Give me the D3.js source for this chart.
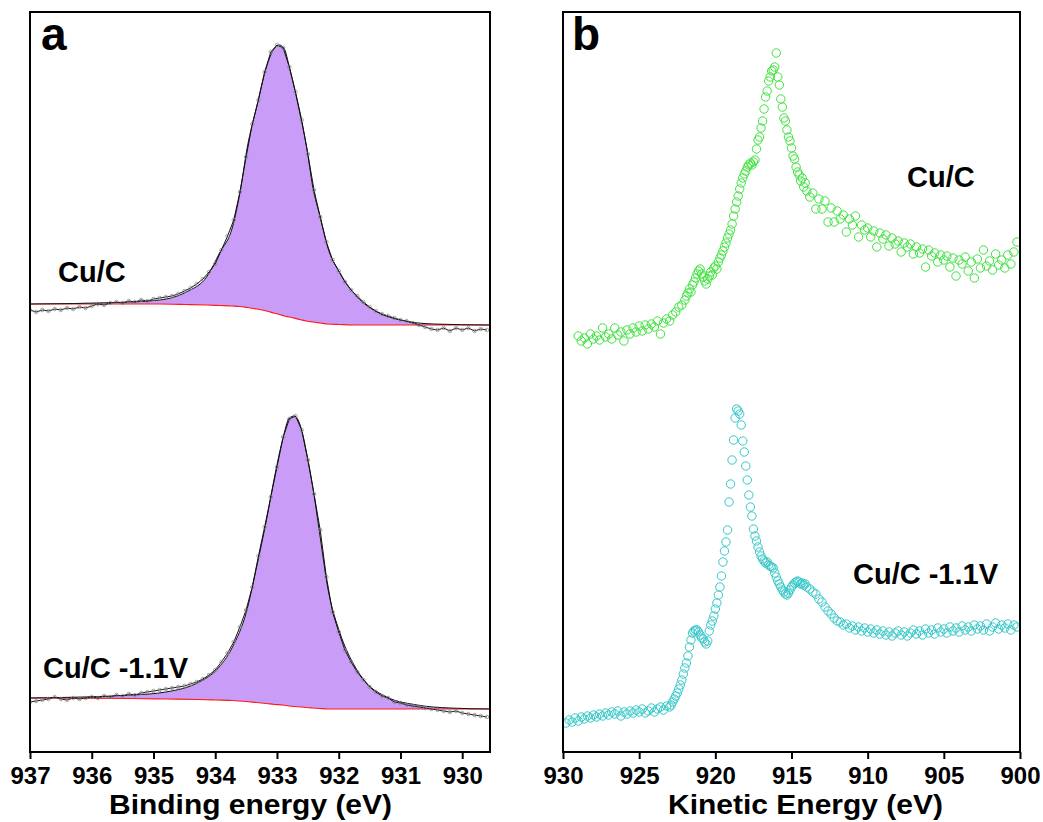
<!DOCTYPE html>
<html>
<head>
<meta charset="utf-8">
<script src="https://cdn.jsdelivr.net/npm/d3@7"></script>
<style>
body { margin: 0; background: #fff; }
text { font-family: "Liberation Sans", Arial, sans-serif; font-weight: bold; fill: #000; }
</style>
</head>
<body>
<div id="chart"></div>
<script>
// ---- panel a : Cu 2p3/2 XPS, binding energy grid 937.0 -> 929.6 eV, 0.1 eV step
var beStart = 937.0, beStep = 0.1;
var beTicks = [937, 936, 935, 934, 933, 932, 931, 930];

var rawCuC = [72,70,72,71,73,72,74,73,75,74, 76,78,77,79,80,79,81,80,82,81,
  83,84,85,86,88,91,94,98,103,110, 118,132,146,162,190,225,258,282,310,330,
  337,334,315,290,262,228,192,165,140,122, 111,100,92,86,80,75,71,68,66,64,
  62,61,59,57,55,53,52,54,51,54, 52,54,51,53,52];
var rawCuCV = [50,51,52,53,55,53,52,54,53,54, 55,54,56,55,57,56,58,57,59,60,
  61,62,63,64,65,66,68,70,73,77, 82,90,99,110,125,142,165,196,225,255,
  285,315,333,336,322,292,258,222,175,140, 120,102,90,80,72,65,60,56,54,50,
  49,47,46,45,44,43,42,41,40,41, 39,38,37,36,35];

// fitted envelope and Shirley background
var fitCuC_E  = [937.0,935.6,934.9,934.47,934.14,933.93,933.72,933.6,933.48,933.33,933.17,933.05,932.96,932.88,932.8,932.63,932.52,932.42,932.3,932.18,931.98,931.7,931.38,931.0,930.47,929.55];
var fitCuC    = [78,79.5,82,90,105,129,155,189,235,275,315,333,337,333,315,269,235,195,165,135,109,85,70,62,58,57];
var bgCuC     = [78,78,78,77.5,77,76.5,76,75.5,74.5,73,71,69,67.5,66,65,62.5,61,60,59,58,57.5,57,57,57,57,57];

var fitCuCV_E = [937.0,935.34,934.8,934.26,933.98,933.72,933.5,933.33,933.17,933.04,932.91,932.8,932.72,932.6,932.52,932.42,932.31,932.18,931.98,931.77,931.55,931.22,930.73,930.2,929.55];
var fitCuCV   = [54,57,60,70,82,105,139,185,232,275,312,334,336,322,299,265,219,165,119,89,69,55,47,44,43];
var bgCuCV    = [54,53.5,53,52.5,52,51.5,50.5,49.5,48.5,47.5,47,46,45.5,45,44.5,44,43.5,43,43,43,43,43,43,43,43];

// ---- panel b : Cu LMM Auger, [kinetic energy, counts]
var keTicks = [930, 925, 920, 915, 910, 905, 900];

var augerCuC = [
  [929.0,416],[928.8,411],[928.6,414],[928.4,408],[928.2,418],[928.0,413],[927.8,416],[927.6,412],[927.4,424],[927.2,415],
  [927.0,418],[926.8,413],[926.6,424],[926.4,417],[926.2,420],[926.0,411],[925.8,422],[925.6,418],[925.4,424],[925.2,420],
  [925.0,426],[924.8,421],[924.6,427],[924.4,423],[924.2,428],[924.0,425],[923.8,431],[923.6,418],[923.4,429],[923.2,433],
  [923.0,431],[922.8,437],[922.6,440],[922.4,445],[922.2,447],
  [922.0,452],[921.9,456],[921.8,459],[921.7,463],[921.6,460],[921.5,467],[921.4,470],[921.3,474],[921.2,478],[921.1,481],
  [921.0,483],[920.9,478],[920.8,475],[920.7,471],[920.6,468],[920.5,473],[920.4,476],[920.3,480],[920.2,477],[920.1,484],
  [920.0,486],[919.9,483],[919.8,490],[919.7,494],[919.6,497],[919.5,501],[919.4,505],[919.3,509],[919.2,514],[919.1,518],
  [919.0,522],[918.9,528],[918.8,536],[918.7,543],[918.6,550],[918.5,556],[918.4,563],[918.3,569],[918.2,574],[918.1,578],
  [918.0,581],[917.9,585],[917.8,587],[917.7,589],[917.6,587],[917.5,590],[917.4,592],[917.3,603],[917.2,612],[917.1,615],
  [917.0,624],[916.9,631],[916.8,643],[916.7,655],[916.6,661],[916.5,671],[916.4,675],[916.3,681],[916.2,682],[916.1,685],
  [916.0,699],[915.9,675],[915.8,667],[915.7,653],[915.6,645],[915.5,634],[915.4,631],[915.3,622],[915.2,615],[915.1,611],
  [915.0,604],[914.9,596],[914.8,593],[914.7,585],[914.6,580],[914.5,577],[914.4,571],[914.3,574],[914.2,565],[914.1,569],
  [914.0,561],
  [913.8,555],[913.6,559],[913.4,543],[913.2,553],[913.0,543],[912.8,551],[912.6,530],[912.4,544],[912.2,530],[912.0,541],
  [911.8,533],[911.6,537],[911.4,520],[911.2,533],[911.0,527],[910.8,536],[910.6,515],[910.4,527],[910.2,522],[910.0,524],
  [909.8,515],[909.6,521],[909.4,505],[909.2,519],[909.0,513],[908.8,517],[908.6,506],[908.4,514],[908.2,508],[908.0,511],
  [907.8,500],[907.6,509],[907.4,505],[907.2,508],[907.0,498],[906.8,505],[906.6,499],[906.4,503],[906.2,485],[906.0,502],
  [905.8,496],[905.6,499],[905.4,490],[905.2,497],[905.0,492],[904.8,496],[904.6,485],[904.4,494],[904.2,476],[904.0,492],
  [903.8,488],[903.6,495],[903.4,481],[903.2,490],[903.0,474],[902.8,493],[902.6,484],[902.4,502],[902.2,486],[902.0,491],
  [901.8,482],[901.6,498],[901.4,487],[901.2,492],[901.0,484],[900.8,497],[900.6,488],[900.4,500],[900.2,510]
];

var augerCuCV = [
  [929.8,29],[929.6,32],[929.4,30],[929.2,34],[929.0,31],[928.8,35],[928.6,33],[928.4,36],[928.2,34],[928.0,37],
  [927.8,35],[927.6,38],[927.4,36],[927.2,39],[927.0,37],[926.8,40],[926.6,38],[926.4,41],[926.2,36],[926.0,40],
  [925.8,38],[925.6,41],[925.4,39],[925.2,42],[925.0,40],[924.8,43],[924.6,39],[924.4,41],[924.2,44],[924.0,40],
  [923.8,43],[923.6,45],[923.4,42],[923.2,46],
  [923.0,45],[922.9,47],[922.8,50],[922.7,53],[922.6,56],[922.5,59],[922.4,63],[922.3,67],[922.2,72],[922.1,78],
  [922.0,84],[921.9,89],[921.8,96],[921.7,105],[921.6,112],[921.5,119],[921.4,121],[921.3,122],[921.2,122],[921.1,120],
  [921.0,117],[920.9,114],[920.8,113],[920.7,110],[920.6,108],[920.5,111],[920.4,121],[920.3,127],[920.2,131],[920.1,136],
  [920.0,143],[919.9,149],[919.8,157],[919.7,165],[919.6,176],[919.5,190],[919.4,201],[919.3,210],[919.2,222],[919.1,250],
  [919.0,268],[918.9,292],[918.8,312],[918.7,334],[918.6,343],[918.5,341],[918.4,338],[918.3,327],[918.2,311],[918.1,300],
  [918.0,286],[917.9,272],[917.8,257],[917.7,245],[917.6,236],[917.5,223],[917.4,216],[917.3,211],[917.2,205],[917.1,200],
  [917.0,196],[916.9,193],[916.8,191],[916.7,189],[916.6,190],[916.5,187],[916.4,186],[916.3,185],[916.2,184],[916.1,179],
  [916.0,175],[915.9,171],[915.8,168],[915.7,165],[915.6,162],[915.5,160],[915.4,158],[915.3,157],[915.2,159],[915.1,162],
  [915.0,165],[914.9,167],[914.8,169],[914.7,170],[914.6,171],[914.5,170],[914.4,168],[914.3,169],[914.2,167],[914.1,168],
  [914.0,165],
  [913.8,163],[913.6,160],[913.4,158],[913.2,153],[913.0,150],[912.8,145],[912.6,141],[912.4,138],[912.2,134],[912.0,131],
  [911.8,130],[911.6,127],[911.4,128],[911.2,124],[911.0,126],[910.8,122],[910.6,125],[910.4,121],[910.2,124],[910.0,120],
  [909.8,123],[909.6,119],[909.4,122],[909.2,118],[909.0,121],[908.8,117],[908.6,120],[908.4,116],[908.2,119],[908.0,121],
  [907.8,117],[907.6,120],[907.4,116],[907.2,119],[907.0,122],[906.8,118],[906.6,121],[906.4,117],[906.2,123],[906.0,119],
  [905.8,122],[905.6,118],[905.4,124],[905.2,120],[905.0,123],[904.8,119],[904.6,125],[904.4,121],[904.2,124],[904.0,120],
  [903.8,126],[903.6,122],[903.4,125],[903.2,121],[903.0,127],[902.8,123],[902.6,126],[902.4,122],[902.2,128],[902.0,121],
  [901.8,125],[901.6,129],[901.4,123],[901.2,127],[901.0,124],[900.8,128],[900.6,122],[900.4,127],[900.2,125]
];

var W = 1043, H = 822;

var svg = d3.select("#chart").append("svg")
    .attr("width", W)
    .attr("height", H);

// frames
var fa = {left: 30, right: 490, top: 12, bottom: 752},
    fb = {left: 563, right: 1020, top: 12, bottom: 752};

var xA = d3.scaleLinear().domain([937, 929.55]).range([fa.left, fa.right]);
var yTop = d3.scaleLinear().domain([0, 370]).range([382, fa.top]);
var yBot = d3.scaleLinear().domain([0, 370]).range([fa.bottom, 382]);
var xB = d3.scaleLinear().domain([930, 900]).range([fb.left, fb.right]);
var yB = d3.scaleLinear().domain([0, 740]).range([fb.bottom, fb.top]);

var defs = svg.append("defs");
defs.append("clipPath").attr("id", "clipA").append("rect")
    .attr("x", fa.left).attr("y", fa.top)
    .attr("width", fa.right - fa.left).attr("height", fa.bottom - fa.top);
defs.append("clipPath").attr("id", "clipB").append("rect")
    .attr("x", fb.left).attr("y", fb.top)
    .attr("width", fb.right - fb.left).attr("height", fb.bottom - fb.top);

var gA = svg.append("g").attr("clip-path", "url(#clipA)");
var gB = svg.append("g").attr("clip-path", "url(#clipB)");

function drawXps(y, raw, fitE, fit, bg) {
  var fitData = fitE.map(function(e, i) { return {e: e, f: fit[i], b: bg[i]}; });
  var rawData = raw.map(function(v, i) { return {e: beStart - i * beStep, v: v}; });

  gA.append("path")
      .datum(fitData)
      .attr("fill", "#c99cf8")
      .attr("d", d3.area()
          .x(function(d) { return xA(d.e); })
          .y0(function(d) { return y(d.b); })
          .y1(function(d) { return y(d.f); })
          .curve(d3.curveMonotoneX));

  gA.append("path")
      .datum(fitData)
      .attr("fill", "none")
      .attr("stroke", "#ff1a1a")
      .attr("stroke-width", 1.2)
      .attr("d", d3.line()
          .x(function(d) { return xA(d.e); })
          .y(function(d) { return y(d.b); })
          .curve(d3.curveMonotoneX));

  gA.append("path")
      .datum(rawData)
      .attr("fill", "none")
      .attr("stroke", "#111")
      .attr("stroke-width", 1)
      .attr("d", d3.line()
          .x(function(d) { return xA(d.e); })
          .y(function(d) { return y(d.v); }));

  gA.append("path")
      .datum(fitData)
      .attr("fill", "none")
      .attr("stroke", "#111")
      .attr("stroke-width", 1)
      .attr("d", d3.line()
          .x(function(d) { return xA(d.e); })
          .y(function(d) { return y(d.f); })
          .curve(d3.curveMonotoneX));

  gA.append("g").selectAll("circle")
      .data(rawData)
      .enter().append("circle")
      .attr("cx", function(d) { return xA(d.e); })
      .attr("cy", function(d) { return y(d.v); })
      .attr("r", 1.8)
      .attr("fill", "none")
      .attr("stroke", "#888")
      .attr("stroke-width", 0.7);
}

drawXps(yTop, rawCuC, fitCuC_E, fitCuC, bgCuC);
drawXps(yBot, rawCuCV, fitCuCV_E, fitCuCV, bgCuCV);

function drawAuger(data, colour) {
  gB.append("g").selectAll("circle")
      .data(data)
      .enter().append("circle")
      .attr("cx", function(d) { return xB(d[0]); })
      .attr("cy", function(d) { return yB(d[1]); })
      .attr("r", 4.2)
      .attr("fill", "none")
      .attr("stroke", colour)
      .attr("stroke-width", 1);
}

drawAuger(augerCuC, "#3fe23f");
drawAuger(augerCuCV, "#35c8c8");

// axes
function styleAxis(g) {
  g.select(".domain").remove();
  g.selectAll(".tick line").attr("stroke", "#000").attr("stroke-width", 2);
  g.selectAll(".tick text")
      .attr("font-size", "24px")
      .attr("font-family", "'Liberation Sans', Arial, sans-serif")
      .attr("font-weight", "bold")
      .attr("fill", "#000");
}

svg.append("g")
    .attr("transform", "translate(0," + fa.bottom + ")")
    .call(d3.axisBottom(xA).tickValues(beTicks).tickSize(7).tickPadding(8).tickFormat(d3.format("d")))
    .call(styleAxis);

svg.append("g")
    .attr("transform", "translate(0," + fb.bottom + ")")
    .call(d3.axisBottom(xB).tickValues(keTicks).tickSize(7).tickPadding(8).tickFormat(d3.format("d")))
    .call(styleAxis);

[fa, fb].forEach(function(f) {
  svg.append("rect")
      .attr("x", f.left).attr("y", f.top)
      .attr("width", f.right - f.left).attr("height", f.bottom - f.top)
      .attr("fill", "none")
      .attr("stroke", "#000")
      .attr("stroke-width", 2);
});

// axis titles (original figure is a little stretched horizontally)
svg.append("text")
    .attr("x", 109).attr("y", 814)
    .attr("font-size", "27px")
    .attr("textLength", 283).attr("lengthAdjust", "spacingAndGlyphs")
    .text("Binding energy (eV)");

svg.append("text")
    .attr("x", 668).attr("y", 814)
    .attr("font-size", "27px")
    .attr("textLength", 275).attr("lengthAdjust", "spacingAndGlyphs")
    .text("Kinetic Energy (eV)");

// panel letters
svg.append("text").attr("x", 41).attr("y", 50).attr("font-size", "46px").text("a");
svg.append("text").attr("x", 572).attr("y", 50).attr("font-size", "46px").text("b");

// sample labels
var labels = [
  {t: "Cu/C", x: 58, y: 282},
  {t: "Cu/C -1.1V", x: 43, y: 678},
  {t: "Cu/C", x: 907, y: 187},
  {t: "Cu/C -1.1V", x: 853, y: 584}
];
svg.selectAll(".lbl")
    .data(labels)
    .enter().append("text")
    .attr("class", "lbl")
    .attr("x", function(d) { return d.x; })
    .attr("y", function(d) { return d.y; })
    .attr("font-size", "29px")
    .text(function(d) { return d.t; });
</script>
</body>
</html>
